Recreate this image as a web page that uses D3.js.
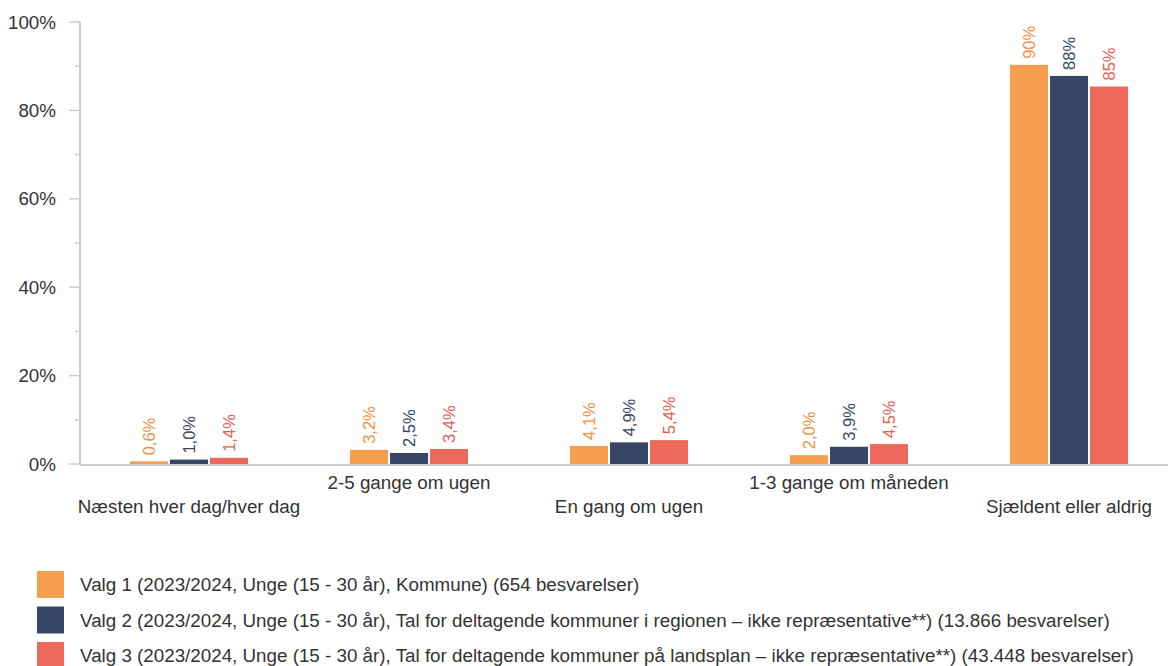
<!DOCTYPE html>
<html><head><meta charset="utf-8">
<script src="https://cdn.jsdelivr.net/npm/d3@7"></script>
<style>
body{margin:0;background:#fff;font-family:Arial,"Liberation Sans",sans-serif;}
</style></head>
<body><svg id="chart" width="1168" height="666"></svg>
<script>
const categories = ["Næsten hver dag/hver dag","2-5 gange om ugen","En gang om ugen","1-3 gange om måneden","Sjældent eller aldrig"];
const seriesNames = [
 "Valg 1 (2023/2024, Unge (15 - 30 år), Kommune) (654 besvarelser)",
 "Valg 2 (2023/2024, Unge (15 - 30 år), Tal for deltagende kommuner i regionen – ikke repræsentative**) (13.866 besvarelser)",
 "Valg 3 (2023/2024, Unge (15 - 30 år), Tal for deltagende kommuner på landsplan – ikke repræsentative**) (43.448 besvarelser)"
];
const valg1 = [0.6, 3.2, 4.1, 2.0, 90.3];
const valg2 = [1.0, 2.5, 4.9, 3.9, 87.8];
const valg3 = [1.4, 3.4, 5.4, 4.5, 85.4];
const yTicks = [0, 20, 40, 60, 80, 100];
const yMinorTicks = [10, 30, 50, 70, 90];
const barColors = ["#F59E4E", "#374664", "#EB685A"];
const labelColors = ["#EE9244", "#374664", "#E45E50"];

const series = [valg1, valg2, valg3];
const svg = d3.select("#chart");
const x0 = d3.scaleBand().domain(categories).range([79, 1179]).paddingInner(0).paddingOuter(0);
const x1 = d3.scaleBand().domain([0,1,2]).range([-59, 59]).paddingInner(0.05);
const y = d3.scaleLinear().domain([0, 100]).range([464, 22]);

// y axis
const yAxis = svg.append("g").attr("transform","translate(80,0)");
yAxis.append("line").attr("x1",0).attr("x2",0).attr("y1",y(100)).attr("y2",y(0)).attr("stroke","#cccccc").attr("stroke-width",2);
yAxis.selectAll(".maj").data(yTicks).join("line").attr("x1",-11).attr("x2",0).attr("y1",d=>y(d)).attr("y2",d=>y(d)).attr("stroke","#cccccc").attr("stroke-width",1.5);
yAxis.selectAll(".min").data(yMinorTicks).join("line").attr("x1",-5).attr("x2",0).attr("y1",d=>y(d)).attr("y2",d=>y(d)).attr("stroke","#cccccc").attr("stroke-width",1.5);
yAxis.selectAll("text").data(yTicks).join("text").attr("x",-24).attr("y",d=>y(d)).attr("dy","0.35em")
  .attr("text-anchor","end").attr("font-size",18.8).attr("fill","#333").text(d=>d+"%");

// bars
const fmt = v => v >= 10 ? Math.round(v) + "%" : v.toFixed(1).replace(".", ",") + "%";
categories.forEach((c, ci) => {
  const g = svg.append("g").attr("transform", `translate(${x0(c) + x0.bandwidth()/2},0)`);
  series.forEach((s, si) => {
    const v = s[ci];
    g.append("rect").attr("x", x1(si)).attr("width", x1.bandwidth())
      .attr("y", y(v)).attr("height", y(0) - y(v)).attr("fill", barColors[si]);
    const cx = x1(si) + x1.bandwidth()/2;
    g.append("text").attr("transform", `translate(${cx},${y(v) - 6}) rotate(-90)`)
      .attr("dy","0.35em").attr("text-anchor","start").attr("font-size",16.5)
      .attr("fill", labelColors[si]).text(fmt(v));
  });
});

// x baseline
svg.append("line").attr("x1",80).attr("x2",1168).attr("y1",y(0)+1).attr("y2",y(0)+1).attr("stroke","#cccccc").attr("stroke-width",2);

// x labels
svg.selectAll(".xl").data(categories).join("text")
  .attr("x", d => x0(d) + x0.bandwidth()/2)
  .attr("y", (d,i) => i % 2 === 0 ? 513 : 489)
  .attr("text-anchor","middle").attr("font-size",18.8).attr("fill","#333").text(d=>d);

// legend
const lg = svg.append("g");
seriesNames.forEach((n, i) => {
  const yy = 571 + i * 35.5;
  lg.append("rect").attr("x",37).attr("y",yy).attr("width",27).attr("height",27).attr("fill",barColors[i]);
  lg.append("text").attr("x",80).attr("y",yy+13.5).attr("dy","0.35em").attr("font-size",18.8).attr("fill","#333").text(n);
});
</script></body></html>
